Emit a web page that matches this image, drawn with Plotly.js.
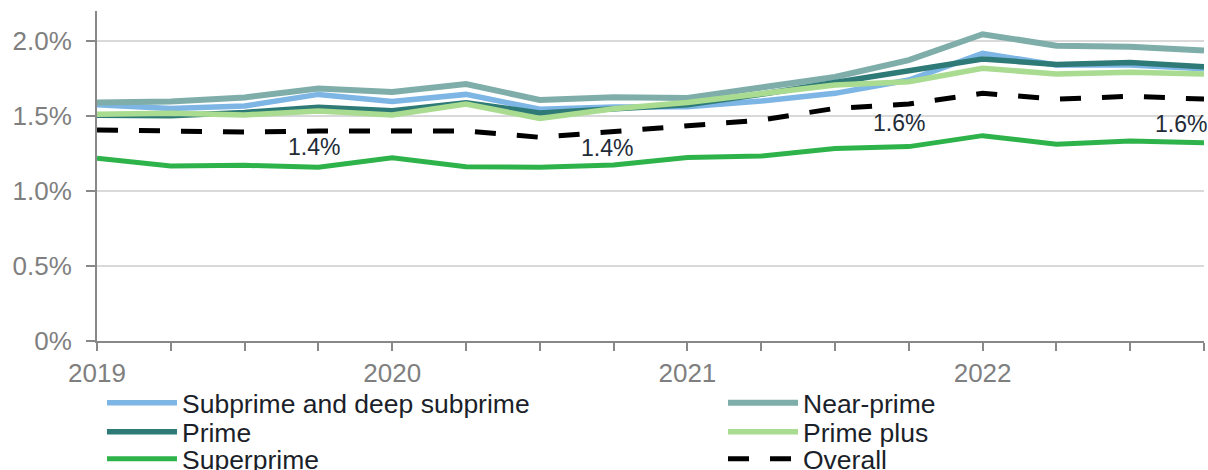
<!DOCTYPE html>
<html>
<head>
<meta charset="utf-8">
<script src="https://cdn.plot.ly/plotly-3.0.1.min.js"></script>
<style>
  html, body { margin: 0; padding: 0; background: #ffffff; }
  #chart { width: 1208px; height: 470px; }
</style>
</head>
<body>
<div id="chart"></div>
<script>
// ---- Data (percent) ----
const quarters = [
  '2019 Q1','2019 Q2','2019 Q3','2019 Q4',
  '2020 Q1','2020 Q2','2020 Q3','2020 Q4',
  '2021 Q1','2021 Q2','2021 Q3','2021 Q4',
  '2022 Q1','2022 Q2','2022 Q3','2022 Q4'
];
const subprime   = [1.575, 1.55, 1.567, 1.644, 1.596, 1.644, 1.545, 1.56, 1.562, 1.60, 1.651, 1.74, 1.918, 1.84, 1.84, 1.815];
const nearPrime  = [1.59, 1.596, 1.624, 1.684, 1.66, 1.713, 1.607, 1.625, 1.62, 1.69, 1.76, 1.873, 2.045, 1.969, 1.962, 1.936];
const prime      = [1.505, 1.502, 1.524, 1.558, 1.535, 1.589, 1.52, 1.55, 1.575, 1.645, 1.725, 1.796, 1.88, 1.844, 1.856, 1.829];
const primePlus  = [1.511, 1.518, 1.507, 1.533, 1.507, 1.58, 1.484, 1.548, 1.59, 1.651, 1.707, 1.729, 1.818, 1.78, 1.791, 1.78];
const superprime = [1.218, 1.167, 1.171, 1.158, 1.222, 1.162, 1.158, 1.173, 1.224, 1.233, 1.284, 1.296, 1.369, 1.311, 1.333, 1.322];
const overall    = [1.407, 1.40, 1.393, 1.40, 1.402, 1.40, 1.358, 1.396, 1.429, 1.473, 1.551, 1.58, 1.651, 1.613, 1.631, 1.613];
const seriesNames = ['Subprime and deep subprime', 'Near-prime', 'Prime', 'Prime plus', 'Superprime', 'Overall'];
const yTickVals = [0, 0.5, 1.0, 1.5, 2.0];
const yTickText = ['0%', '0.5%', '1.0%', '1.5%', '2.0%'];
const labelIdx  = [3, 7, 11, 15];   // quarters where Overall is labelled

// ---- Styles ----
const FONT = 'Liberation Sans, Arial, sans-serif';
const colors = ['#7DB5E5', '#7FAEAA', '#2E7A77', '#A9DB91', '#2EB34B', '#000000'];
const widths = [5.5, 6, 5.5, 5.5, 5, 5];
const legendIds = ['legend', 'legend2', 'legend3', 'legend4', 'legend5', 'legend6'];
const legendPos = [[0.0045, -0.188], [0.5655, -0.188], [0.0045, -0.276], [0.5655, -0.276], [0.0045, -0.358], [0.5655, -0.358]];
const labelShift = [[-4, -16], [-7, -16], [-10, -19], [-23, -25]];

const values = [subprime, nearPrime, prime, primePlus, superprime, overall];
const traces = values.map((v, i) => ({
  type: 'scatter',
  mode: 'lines',
  x: quarters,
  y: v,
  name: seriesNames[i],
  legend: legendIds[i],
  line: {
    color: colors[i],
    width: widths[i],
    dash: i === 5 ? '21px,21px' : 'solid'
  },
  hoverinfo: 'skip'
}));

const layout = {
  width: 1208,
  height: 470,
  margin: { l: 97, r: 4, t: 11, b: 129, pad: 0, autoexpand: false },
  paper_bgcolor: '#ffffff',
  plot_bgcolor: '#ffffff',
  font: { family: FONT, size: 26, color: '#7f7f7f' },
  showlegend: true,
  xaxis: {
    type: 'category',
    range: [0, quarters.length - 1],
    tickmode: 'array',
    tickvals: quarters,
    ticktext: quarters.map(q => q.endsWith('Q1') ? q.slice(0, 4) : ''),
    ticks: 'outside',
    ticklen: 8,
    tickwidth: 2,
    tickcolor: '#888888',
    showline: true,
    linecolor: '#888888',
    linewidth: 2,
    showgrid: false,
    zeroline: false,
    tickfont: { family: FONT, size: 26, color: '#7f7f7f' },
    fixedrange: true
  },
  yaxis: {
    range: [0, 2.2],
    tickmode: 'array',
    tickvals: yTickVals,
    ticktext: yTickText,
    ticks: 'outside',
    ticklen: 9,
    tickwidth: 2,
    tickcolor: '#888888',
    showline: true,
    linecolor: '#888888',
    linewidth: 2,
    showgrid: true,
    gridcolor: '#d9d9d9',
    gridwidth: 2,
    zeroline: false,
    ticklabelstandoff: 9,
    tickfont: { family: FONT, size: 26, color: '#7f7f7f' },
    fixedrange: true
  },
  annotations: labelIdx.map((k, j) => ({
    x: quarters[k],
    y: overall[k],
    xref: 'x',
    yref: 'y',
    text: overall[k].toFixed(1) + '%',
    showarrow: false,
    xanchor: 'center',
    yanchor: 'middle',
    xshift: labelShift[j][0],
    yshift: labelShift[j][1],
    font: { family: FONT, size: 23, color: '#222B38' }
  }))
};

legendIds.forEach((id, i) => {
  layout[id] = {
    x: legendPos[i][0],
    y: legendPos[i][1],
    xref: 'paper',
    yref: 'paper',
    xanchor: 'left',
    yanchor: 'middle',
    orientation: 'h',
    itemwidth: 70,
    bgcolor: 'rgba(0,0,0,0)',
    borderwidth: 0,
    font: { family: FONT, size: 26.5, color: '#1B1F2A' }
  };
});

Plotly.newPlot('chart', traces, layout, { displayModeBar: false, staticPlot: true });
</script>
</body>
</html>
